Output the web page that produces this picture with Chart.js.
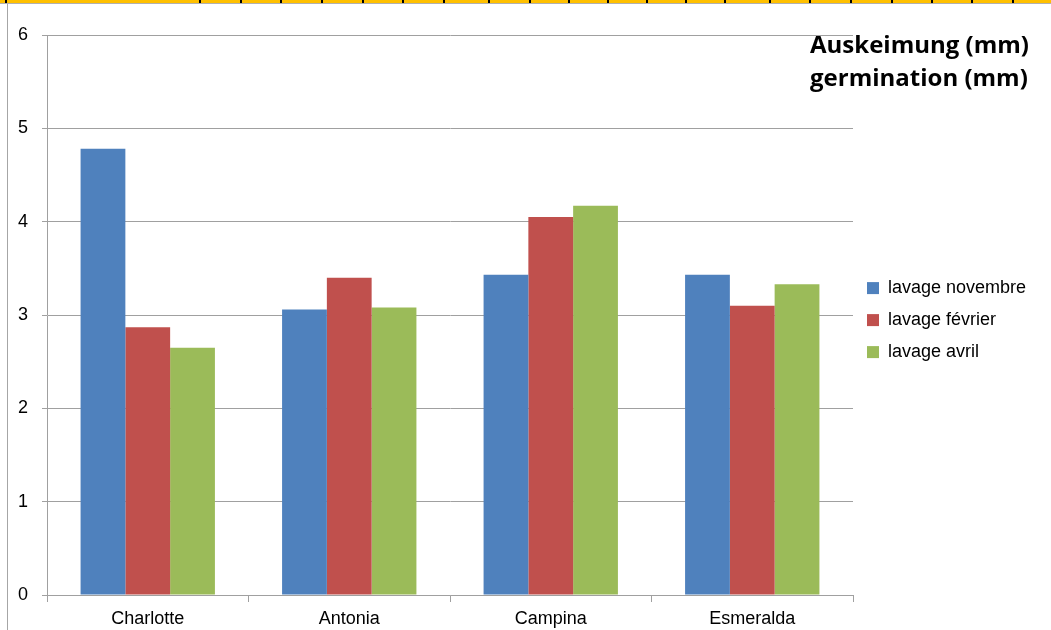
<!DOCTYPE html>
<html>
<head>
<meta charset="utf-8">
<script src="https://cdn.jsdelivr.net/npm/chart.js@4.4.1/dist/chart.umd.min.js"></script>
<style>
  html, body { margin: 0; padding: 0; background: #fff; }
  #wrap { position: relative; width: 1051px; height: 630px; overflow: hidden; }
  #topbar { position: absolute; left: 0; top: 0; width: 1051px; height: 3px; background: #ffc000; }
  #topline { position: absolute; left: 0; top: 3px; width: 1051px; height: 1px; background: #b0b0b0; }
  #leftline { position: absolute; left: 7px; top: 4px; width: 1px; height: 626px; background: #a6a6a6; }
  .mark { position: absolute; top: 0; width: 2px; height: 3px; background: #000; }
  canvas { position: absolute; left: 0; top: 0; }
</style>
</head>
<body>
<div id="wrap">
  <div id="topbar"></div>
  <div id="topline"></div>
  <div id="leftline"></div>
  <canvas id="chart" width="1051" height="630"></canvas>
</div>
<script>
// données
const varietes = ["Charlotte", "Antonia", "Campina", "Esmeralda"];
const lavageNovembre = [4.78, 3.06, 3.43, 3.43];
const lavageFevrier = [2.87, 3.40, 4.05, 3.10];
const lavageAvril = [2.65, 3.08, 4.17, 3.33];
const titre = ["Auskeimung (mm)", "germination (mm)"];

// petits repères noirs de la bande jaune en haut (décor)
const reperes = [5, 199, 240, 280, 321, 362, 402, 443, 488, 529, 568, 607, 646, 685, 724, 769, 809, 850, 891, 931, 971, 1012];
const wrap = document.getElementById("wrap");
reperes.forEach((x) => {
  const d = document.createElement("div");
  d.className = "mark";
  d.style.left = x + "px";
  wrap.appendChild(d);
});

Chart.defaults.font.family = "'Liberation Sans', Arial, sans-serif";
Chart.defaults.color = "#000";

// largeur fixe de la légende pour garder la zone du graphique à droite à 853px
const legendeFixe = {
  id: "legendeFixe",
  beforeLayout(chart) {
    const legend = chart.legend;
    if (legend && !legend._fixe) {
      const fit = legend.fit;
      legend.fit = function () {
        fit.call(this);
        this.width = 198;
      };
      legend._fixe = true;
    }
  },
};

// titre en haut à droite
const titreGraphique = {
  id: "titreGraphique",
  afterDraw(chart) {
    const ctx = chart.ctx;
    ctx.save();
    ctx.font = "bold 24px 'Open Sans', Lato, sans-serif";
    ctx.fillStyle = "#000";
    ctx.textAlign = "left";
    ctx.textBaseline = "alphabetic";
    ctx.fillText(titre[0], 810, 53);
    ctx.fillText(titre[1], 810, 86);
    ctx.restore();
  },
};

const gris = "#a0a0a0";

new Chart(document.getElementById("chart").getContext("2d"), {
  type: "bar",
  data: {
    labels: varietes,
    datasets: [
      { label: "lavage novembre", data: lavageNovembre, backgroundColor: "#4f81bd" },
      { label: "lavage février", data: lavageFevrier, backgroundColor: "#c0504d" },
      { label: "lavage avril", data: lavageAvril, backgroundColor: "#9bbb59" },
    ],
  },
  options: {
    responsive: false,
    animation: false,
    devicePixelRatio: 1,
    categoryPercentage: 0.6667,
    barPercentage: 1.0,
    layout: { padding: { top: 35, bottom: 0, left: 0, right: 0 } },
    plugins: {
      tooltip: { enabled: false },
      legend: {
        position: "right",
        align: "center",
        fullSize: false,
        // titre vide : sert seulement à descendre un peu les éléments
        title: { display: true, text: " ", font: { size: 1 }, padding: { top: 4, bottom: 5 } },
        labels: {
          boxWidth: 12,
          boxHeight: 12,
          padding: 14,
          font: { size: 18 },
          color: "#000",
        },
      },
    },
    scales: {
      x: {
        offset: true,
        grid: { drawOnChartArea: false, drawTicks: true, tickLength: 7, color: gris },
        border: { color: gris },
        ticks: { font: { size: 18 }, padding: 6, color: "#000", maxRotation: 0, autoSkip: false },
        afterFit(scale) { scale.height = 35; },
      },
      y: {
        min: 0,
        max: 6,
        ticks: { stepSize: 1, font: { size: 18 }, padding: 14, color: "#000" },
        grid: { color: gris, tickLength: 5 },
        border: { color: gris },
        afterFit(scale) { scale.width = 47; },
      },
    },
  },
  plugins: [legendeFixe, titreGraphique],
});
</script>
</body>
</html>
